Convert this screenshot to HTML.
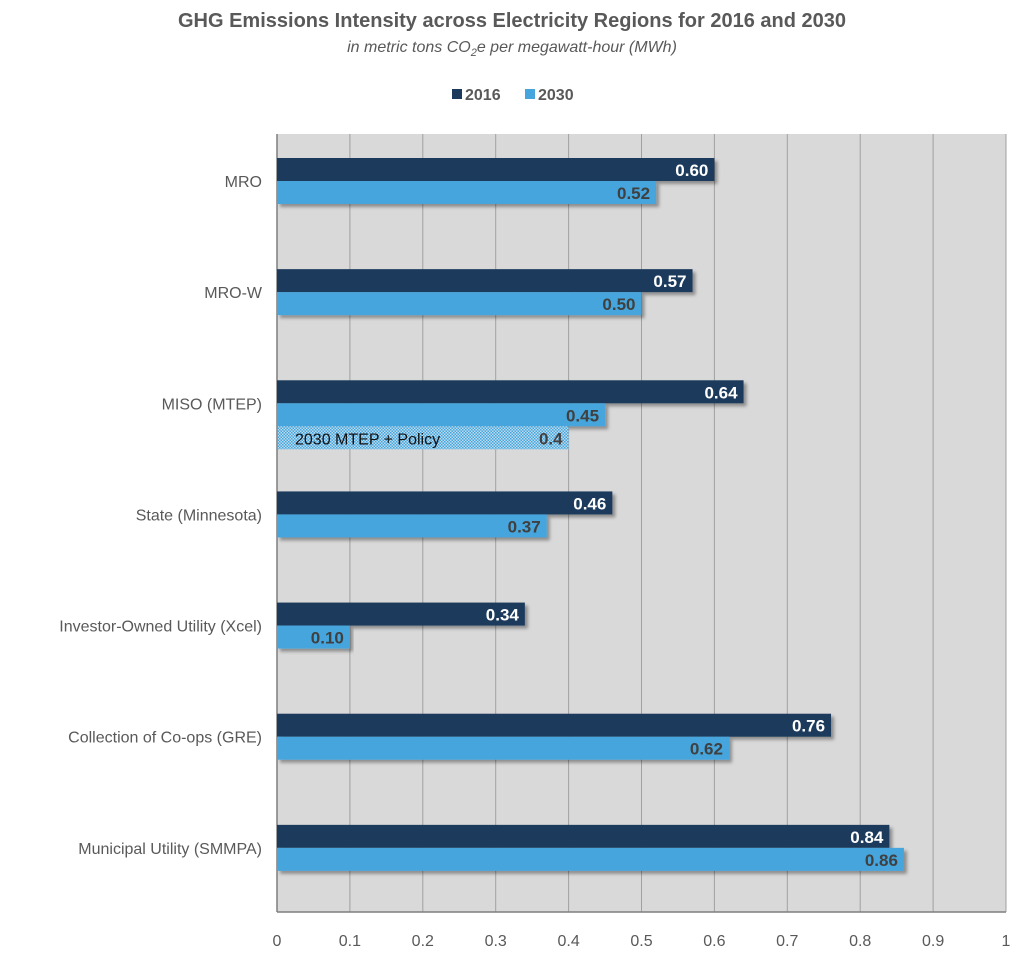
<!DOCTYPE html>
<html><head><meta charset="utf-8"><style>
body{margin:0;background:#fff;font-family:"Liberation Sans",Arial,sans-serif}
svg{display:block}
</style></head><body>
<svg id="chart" width="1024" height="971" viewBox="0 0 1024 971" xmlns="http://www.w3.org/2000/svg" font-family="Liberation Sans, Arial, sans-serif">
<defs>
<pattern id="dots" width="3" height="3" patternUnits="userSpaceOnUse"><rect width="3" height="3" fill="#bcdcf2"/><rect width="1.5" height="1.5" fill="#45a5dc"/><rect x="1.5" y="1.5" width="1.5" height="1.5" fill="#45a5dc"/></pattern>
<filter id="sh" x="-5%" y="-20%" width="110%" height="160%"><feDropShadow dx="3" dy="3" stdDeviation="1.5" flood-color="#000" flood-opacity="0.35"/></filter>
</defs>
<text x="512" y="27" text-anchor="middle" font-size="20" font-weight="bold" fill="#595959">GHG Emissions Intensity across Electricity Regions for 2016 and 2030</text>
<text x="512" y="52" text-anchor="middle" font-size="16" font-style="italic" fill="#595959">in metric tons CO<tspan font-size="11" dy="4">2</tspan><tspan dy="-4">e per megawatt-hour (MWh)</tspan></text>
<g>
<rect x="452" y="89" width="10" height="10" fill="#1b3a5c"/>
<text x="465" y="100" font-size="16" font-weight="bold" fill="#595959">2016</text>
<rect x="525" y="89" width="10" height="10" fill="#45a5dc"/>
<text x="538" y="100" font-size="16" font-weight="bold" fill="#595959">2030</text>
</g>
<rect x="277" y="134" width="729" height="778" fill="#d9d9d9"/>
<g id="grid"></g>
<g id="bars"></g>
<g id="labels"></g>
</svg>
<script>
const categories=["MRO","MRO-W","MISO (MTEP)","State (Minnesota)","Investor-Owned Utility (Xcel)","Collection of Co-ops (GRE)","Municipal Utility (SMMPA)"];
const values2016=[0.60,0.57,0.64,0.46,0.34,0.76,0.84];
const values2030=[0.52,0.50,0.45,0.37,0.10,0.62,0.86];
const labels2016=["0.60","0.57","0.64","0.46","0.34","0.76","0.84"];
const labels2030=["0.52","0.50","0.45","0.37","0.10","0.62","0.86"];
const policyCategory=2;
const policyValue=0.4;
const policyLabel="0.4";
const ticks=[0,0.1,0.2,0.3,0.4,0.5,0.6,0.7,0.8,0.9,1];
const tickLabels=["0","0.1","0.2","0.3","0.4","0.5","0.6","0.7","0.8","0.9","1"];

const NS="http://www.w3.org/2000/svg";
const X0=277,W=729,Y0=134,H=778;
const x=v=>X0+v*W;
const band=H/categories.length;
const y=i=>Y0+i*band;
function mk(tag,attrs,parent,txt){const e=document.createElementNS(NS,tag);for(const k in attrs)e.setAttribute(k,attrs[k]);if(txt!==undefined)e.textContent=txt;parent.appendChild(e);return e;}
const grid=document.getElementById('grid'),bars=document.getElementById('bars'),lab=document.getElementById('labels');
ticks.forEach((t,i)=>{
  if(i>0){const l=mk('line',{x1:x(t),x2:x(t),y1:Y0,y2:Y0+H,stroke:'#a0a0a0','stroke-width':1},grid);
  
  }
  const tx=mk('text',{x:x(t),y:946,'text-anchor':'middle','font-size':16,fill:'#595959'},lab,tickLabels[i]);
  
  
});
const ax=mk('line',{x1:X0,x2:X0,y1:Y0,y2:Y0+H,stroke:'#7f7f7f','stroke-width':1.5},grid);


const bx=mk('line',{x1:X0,x2:X0+W,y1:Y0+H,y2:Y0+H,stroke:'#7f7f7f','stroke-width':1.5},grid);


const BH=23;
categories.forEach((c,i)=>{
  const top=y(i)+24;
  const cl=mk('text',{x:262,y:top+BH+6,'text-anchor':'end','font-size':16,fill:'#595959'},lab,c);
  
  
  const b1=mk('rect',{x:X0,y:top,width:x(values2016[i])-X0,height:BH,fill:'#1b3a5c',filter:'url(#sh)'},bars);
  
  
  const b2=mk('rect',{x:X0,y:top+BH,width:x(values2030[i])-X0,height:BH,fill:'#45a5dc',filter:'url(#sh)'},bars);
  
  
  const t1=mk('text',{x:x(values2016[i])-6,y:top+18,'text-anchor':'end','font-size':17,'font-weight':'bold',fill:'#fff'},lab,labels2016[i]);
  
  
  const t2=mk('text',{x:x(values2030[i])-6,y:top+BH+18,'text-anchor':'end','font-size':17,'font-weight':'bold',fill:'#404040'},lab,labels2030[i]);
  
  
  if(i===policyCategory){
    const b3=mk('rect',{x:X0+1,y:top+2*BH,width:x(policyValue)-X0-1,height:BH,fill:'url(#dots)'},bars);
    
    
    const t3=mk('text',{x:x(policyValue)-6,y:top+2*BH+18,'text-anchor':'end','font-size':17,'font-weight':'bold',fill:'#404040'},lab,policyLabel);
    
    
    const t4=mk('text',{x:X0+18,y:top+2*BH+18,'font-size':16,fill:'#111'},lab,'2030 MTEP + Policy');
    
    
  }
});
</script>
</body></html>
